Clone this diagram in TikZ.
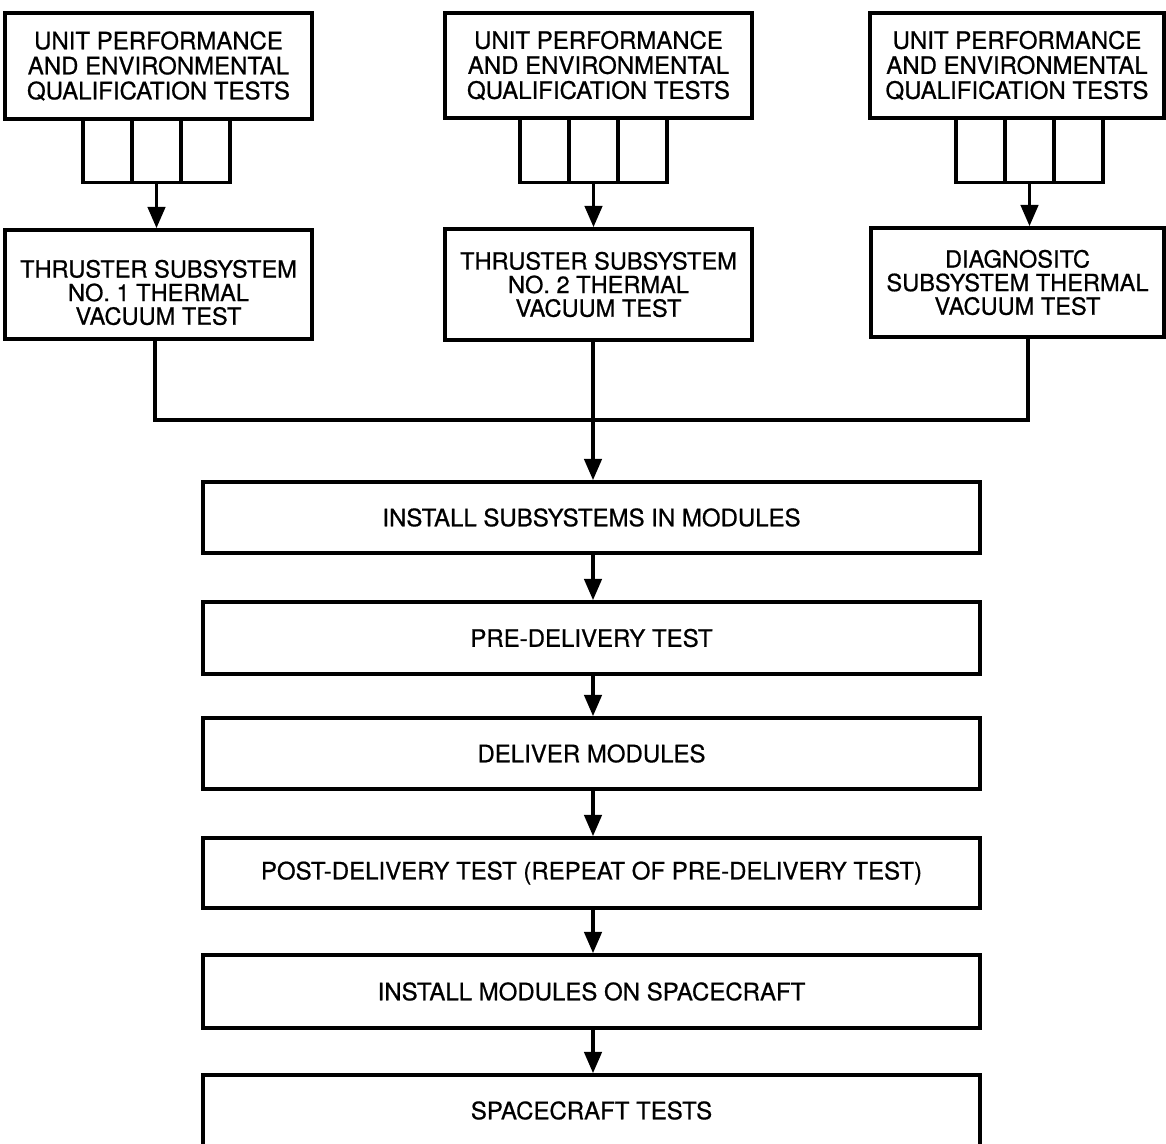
\documentclass[tikz,border=0pt]{standalone}
\usepackage{fontspec}
\setmainfont{TeX Gyre Heros}[FakeBold=0.7]
\usetikzlibrary{arrows.meta}
\begin{document}
\begin{tikzpicture}[x=0.75pt,y=-0.75pt,
  box/.style={draw, line width=2.7pt, inner sep=0pt, align=center,
    font=\fontsize{18}{18.75}\selectfont},
  tbox/.style={box, font=\fontsize{17.7}{17.7}\selectfont},
  cell/.style={draw, line width=2.7pt, inner sep=0pt, minimum width=36.75pt, minimum height=48pt},
  link/.style={line width=2.7pt},
  arr/.style={line width=2.7pt, -{Triangle[length=16pt,width=13pt]}}]
\useasboundingbox (0,0) rectangle (1166,1144);
\clip (0,0) rectangle (1166,1144);

% top boxes
\node[box, minimum width=230.25pt, minimum height=79.5pt] (t1) at (158.5,66)
  {UNIT PERFORMANCE\\AND ENVIRONMENTAL\\QUALIFICATION TESTS};
\node[box, minimum width=230.25pt, minimum height=78.75pt] (t2) at (598.5,65.5)
  {UNIT PERFORMANCE\\AND ENVIRONMENTAL\\QUALIFICATION TESTS};
\node[box, minimum width=220.5pt, minimum height=78.75pt] (t3) at (1017,65.5)
  {UNIT PERFORMANCE\\AND ENVIRONMENTAL\\QUALIFICATION TESTS};

% cells
\node[cell] (c1a) at (107.5,150.5) {};
\node[cell] (c1b) at (156.5,150.5) {};
\node[cell] (c1c) at (205.5,150.5) {};
\node[cell] (c2a) at (544.5,150.5) {};
\node[cell] (c2b) at (593.5,150.5) {};
\node[cell] (c2c) at (642.5,150.5) {};
\node[cell] (c3a) at (980.5,150.5) {};
\node[cell] (c3b) at (1029.5,150.5) {};
\node[cell] (c3c) at (1078.5,150.5) {};

% second row
\node[tbox, minimum width=230.25pt, minimum height=81.75pt,
  label={[tbox, draw=none, yshift=-6pt]center:THRUSTER SUBSYSTEM\\NO. 1 THERMAL\\VACUUM TEST}] (s1) at (158.5,284.5) {};
\node[tbox, minimum width=230.25pt, minimum height=83.25pt] (s2) at (598.5,284.5)
  {THRUSTER SUBSYSTEM\\NO. 2 THERMAL\\VACUUM TEST};
\node[tbox, minimum width=219.75pt, minimum height=81.75pt] (s3) at (1017.5,282.5)
  {DIAGNOSITC\\SUBSYSTEM THERMAL\\VACUUM TEST};

\draw[arr] (c1b.south) -- (c1b.south |- s1.north);
\draw[arr] (c2b.south) -- (c2b.south |- s2.north);
\draw[arr] (c3b.south) -- (c3b.south |- s3.north);

% lower boxes
\node[box, minimum width=582.75pt, minimum height=53.25pt] (b1) at (591.5,517.5) {INSTALL SUBSYSTEMS IN MODULES};
\node[box, minimum width=582.75pt, minimum height=54pt] (b2) at (591.5,638) {PRE-DELIVERY TEST};
\node[box, minimum width=582.75pt, minimum height=53.25pt] (b3) at (591.5,753.5) {DELIVER MODULES};
\node[box, minimum width=582.75pt, minimum height=52.5pt] (b4) at (591.5,873) {POST-DELIVERY TEST (REPEAT OF PRE-DELIVERY TEST)};
\node[box, minimum width=582.75pt, minimum height=54.75pt] (b5) at (591.5,991.5) {INSTALL MODULES ON SPACECRAFT};
\node[box, minimum width=582.75pt, minimum height=53.25pt] (b6) at (591.5,1110.5) {SPACECRAFT TESTS};

% joining connector
\coordinate (j1) at (155,420);
\coordinate (j2) at (593,420);
\coordinate (j3) at (1028,420);
\draw[link] (s1.south -| j1) -- (j1) -- (j3) -- (s3.south -| j3);
\draw[arr] (s2.south -| j2) -- (b1.north -| j2);

\draw[arr] (b1.south -| j2) -- (b2.north -| j2);
\draw[arr] (b2.south -| j2) -- (b3.north -| j2);
\draw[arr] (b3.south -| j2) -- (b4.north -| j2);
\draw[arr] (b4.south -| j2) -- (b5.north -| j2);
\draw[arr] (b5.south -| j2) -- (b6.north -| j2);
\end{tikzpicture}
\end{document}
